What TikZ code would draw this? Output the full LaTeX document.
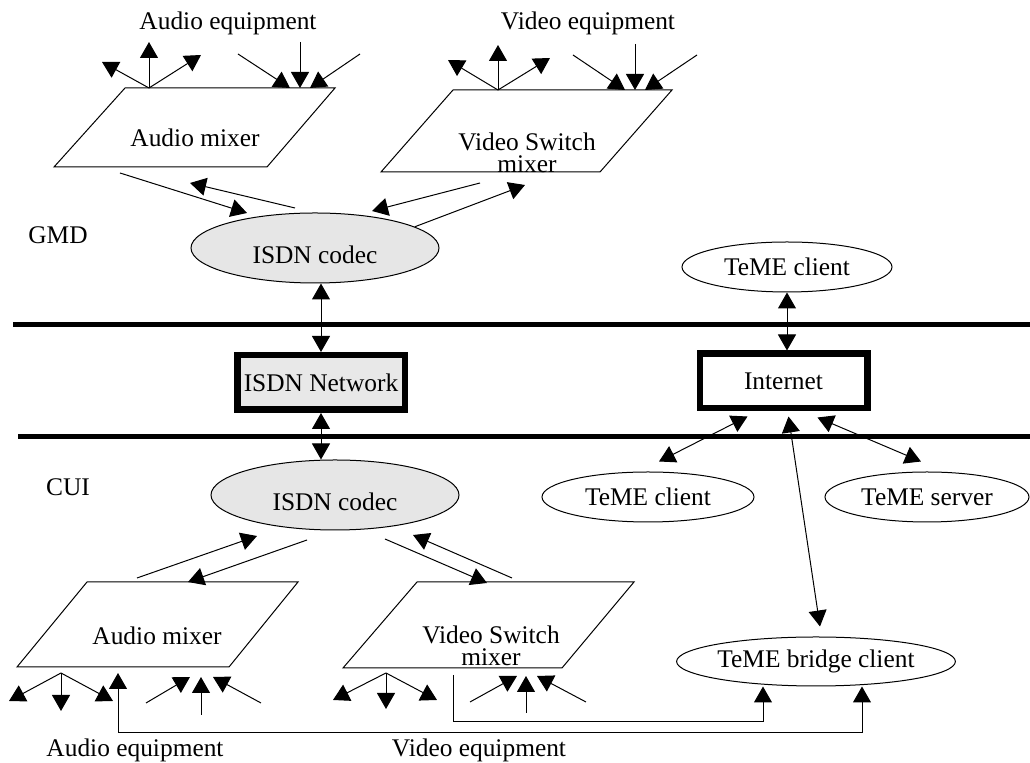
\documentclass[tikz,border=0pt]{standalone}
\usepackage{fontspec}
\setmainfont{Liberation Serif}
\usepackage{tikz}
\usetikzlibrary{arrows.meta, shapes.geometric, calc}
\definecolor{codecgray}{HTML}{E6E6E6}
\definecolor{netgray}{HTML}{E8E8E8}

\begin{document}
\begin{tikzpicture}[
    x=0.5pt, y=-0.5pt,
    font=\fontsize{12.7}{11pt}\selectfont,
    txt/.style={inner sep=0pt},
    mixer/.style={draw, line width=0.5pt},
    codec/.style={draw, ellipse, fill=codecgray, line width=0.5pt, minimum width=124pt, minimum height=35pt, inner sep=0pt, text height=15.5pt},
    teme/.style={draw, ellipse, line width=0.5pt, minimum height=25pt, inner sep=0pt},
    netbox/.style={draw, line width=3.25pt, minimum width=83.75pt, minimum height=27.25pt, inner sep=0pt},
    rule/.style={line width=2.5pt},
    arrow/.style={-{Triangle[length=8pt,width=9pt]}, line width=0.5pt},
    darrow/.style={{Triangle[length=8pt,width=9pt]}-{Triangle[length=8pt,width=9pt]}, line width=0.5pt},
]
\useasboundingbox (0,0) rectangle (1030,763);

% GMD side
\node[txt] (gmd) at (58,235) {GMD};
\node[txt] (audeqT) at (228,23) {Audio equipment};
\node[txt] (videqT) at (588,23) {Video equipment};

% Audio mixer (GMD)
\draw[mixer] (125,88) -- (335,88) -- (267,167) -- (54,167) -- cycle;
\node[txt] (amT) at (195,138) {Audio mixer};
\coordinate (amT-out) at (149,88);
\coordinate (amT-in) at (300,88);
\coordinate (amT-dn) at (120,173);
\coordinate (amT-up) at (190,183);

% Video switch mixer (GMD)
\draw[mixer] (453,90) -- (672,90) -- (600,172) -- (381,172) -- cycle;
\node[txt, align=center] (vmT) at (527,153) {Video Switch\\mixer};
\coordinate (vmT-out) at (498,90);
\coordinate (vmT-in) at (635,90);
\coordinate (vmT-dn) at (480,183);
\coordinate (vmT-up) at (525,185);

% Codec (GMD)
\node[codec] (codecT) at (315,248) {ISDN codec};
\coordinate (codecT-a) at (247,213);
\coordinate (codecT-b) at (295,208);
\coordinate (codecT-c) at (372,211);

% Equipment arrows (GMD)
\draw[arrow] (amT-out) -- ++(-47,-26);
\draw[arrow] (amT-out) -- ++(0,-46);
\draw[arrow] (amT-out) -- ++(52,-33);
\draw[arrow] (amT-in) ++(-62,-34) -- ([xshift=-5pt]amT-in);
\draw[arrow] (amT-in) ++(0,-46) -- (amT-in);
\draw[arrow] (amT-in) ++(60,-34) -- ([xshift=5pt]amT-in);
\draw[arrow] (vmT-out) -- ++(-50,-30);
\draw[arrow] (vmT-out) -- ++(0,-45);
\draw[arrow] (vmT-out) -- ++(52,-32);
\draw[arrow] (vmT-in) ++(-62,-35) -- ([xshift=-5pt]vmT-in);
\draw[arrow] (vmT-in) ++(0,-46) -- (vmT-in);
\draw[arrow] (vmT-in) ++(62,-35) -- ([xshift=5pt]vmT-in);

% Mixers to codec (GMD)
\draw[arrow] (amT-dn) -- (codecT-a);
\draw[arrow] (codecT-b) -- (amT-up);
\draw[arrow] (vmT-dn) -- (codecT-c);
\draw[arrow] (codecT.12.5) -- (vmT-up);

% Networks
\draw[rule] (13,325) -- (1030,325);
\draw[rule] (18,437) -- (1030,437);
\node[netbox, fill=netgray] (isdn) at (321,382.5) {ISDN Network};
\node[netbox, fill=white] (inet) at (783.5,381) {Internet};
\node[teme, minimum width=105pt] (temeT) at (787,267) {TeME client};

% CUI side
\node[txt] (cui) at (68,487) {CUI};
\node[codec] (codecB) at (335,495) {ISDN codec};
\node[teme, minimum width=106pt] (temeC) at (648,497) {TeME client};
\node[teme, minimum width=102pt] (temeS) at (927,497) {TeME server};
\node[teme, minimum width=123pt, minimum height=24.5pt] (bridge) at (816,661.5) {TeME bridge client};

\draw[darrow] (codecT.south -| isdn.north) -- (isdn.north);
\draw[darrow] (isdn.south) -- (isdn.south |- codecB.north);
\draw[darrow] (temeT.south) -- (temeT.south |- inet.north);
\draw[darrow] ([shift={(-36,5)}]inet.south) -- ([shift={(11,-10)}]temeC.north);
\draw[darrow] ([shift={(34,6)}]inet.south) -- ([shift={(-6,-10)}]temeS.north);
\draw[darrow] ([shift={(5,5)}]inet.south) -- ([shift={(4,-10)}]bridge.north);

% Audio mixer (CUI)
\draw[mixer] (87,582) -- (298,582) -- (229,667) -- (17,667) -- cycle;
\node[txt] (amB) at (157,636) {Audio mixer};
\coordinate (amB-up) at (137,578);
\coordinate (amB-dn) at (188,582);
\coordinate (amB-out) at (61,673);
\coordinate (amB-in) at (201,677);
\coordinate (amB-fb) at (118,673);

% Video switch mixer (CUI)
\draw[mixer] (417,582) -- (634,582) -- (562,668) -- (343,668) -- cycle;
\node[txt, align=center] (vmB) at (491,646) {Video Switch\\mixer};
\coordinate (vmB-dn) at (487,583);
\coordinate (vmB-up) at (512,578);
\coordinate (vmB-out) at (386,673);
\coordinate (vmB-in) at (526,676);
\coordinate (vmB-fb) at (453,675);

% Codec to mixers (CUI)
\coordinate (codecB-a) at (257,536);
\coordinate (codecB-b) at (307,540);
\coordinate (codecB-c) at (385,539);
\coordinate (codecB-d) at (413,535);
\draw[arrow] (amB-up) -- (codecB-a);
\draw[arrow] (codecB-b) -- (amB-dn);
\draw[arrow] (codecB-c) -- (vmB-dn);
\draw[arrow] (vmB-up) -- (codecB-d);

% Equipment arrows (CUI)
\draw[arrow] (amB-out) -- ++(-52,28);
\draw[arrow] (amB-out) -- ++(0,38);
\draw[arrow] (amB-out) -- ++(52,28);
\draw[arrow] (amB-in) ++(-55,26) -- ([xshift=-5.5pt]amB-in);
\draw[arrow] (amB-in) ++(0,38) -- (amB-in);
\draw[arrow] (amB-in) ++(60,26) -- ([xshift=6pt]amB-in);
\draw[arrow] (vmB-out) -- ++(-53,27);
\draw[arrow] (vmB-out) -- ++(0,36);
\draw[arrow] (vmB-out) -- ++(51,27);
\draw[arrow] (vmB-in) ++(-56,26) -- ([xshift=-4.5pt]vmB-in);
\draw[arrow] (vmB-in) ++(0,37) -- (vmB-in);
\draw[arrow] (vmB-in) ++(60,26) -- ([xshift=5.5pt]vmB-in);

% Feeds to bridge client
\draw[darrow] (amB-fb) -- ++(0,60) -| ([shift={(46,0)}]bridge.south);
\draw[arrow] (vmB-fb) -- ++(0,47) -| ([shift={(-53,0)}]bridge.south);

\node[txt] (audeqB) at (135,750) {Audio equipment};
\node[txt] (videqB) at (479,750) {Video equipment};

\end{tikzpicture}
\end{document}
